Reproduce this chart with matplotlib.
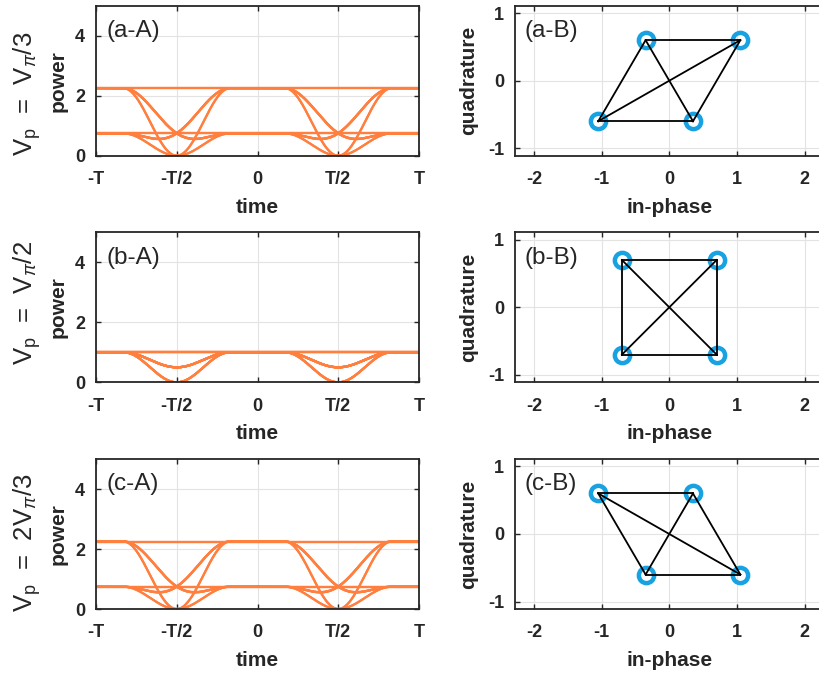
import numpy as np
import matplotlib
matplotlib.use("Agg")
import matplotlib.pyplot as plt

# constellation points (in-phase, quadrature)
iq_a_i = [-1.05, -0.35, 0.35, 1.05]
iq_a_q = [-0.60, 0.60, -0.60, 0.60]
iq_b_i = [-0.70, 0.70, -0.70, 0.70]
iq_b_q = [0.70, 0.70, -0.70, -0.70]
iq_c_i = [-1.05, 0.35, -0.35, 1.05]
iq_c_q = [0.60, 0.60, -0.60, -0.60]

# outer power level seen on each eye diagram
peak_power = [2.25, 1.0, 2.25]
# symbol boundaries and half-width of a transition (units of T)
transition_times = [-0.5, 0.5]
transition_halfwidth = 0.33

row_labels = [r"V$_\mathrm{p}$  =  V$_\pi$/3",
              r"V$_\mathrm{p}$  =  V$_\pi$/2",
              r"V$_\mathrm{p}$  =  2V$_\pi$/3"]
row_label_y = [94, 303, 543]
eye_tags = ["(a-A)", "(b-A)", "(c-A)"]
iq_tags = ["(a-B)", "(b-B)", "(c-B)"]

time_ticks = [-1, -0.5, 0, 0.5, 1]
time_ticklabels = ["-T", "-T/2", "0", "T/2", "T"]
power_ticks = [0, 2, 4]
iq_xticks = [-2, -1, 0, 1, 2]
iq_yticks = [-1, 0, 1]

ORANGE = "#FF7F3F"
BLUE = "#18A2E2"
DARK = "#262626"

plt.rcParams["font.family"] = ["Liberation Sans", "DejaVu Sans"]
plt.rcParams["mathtext.fontset"] = "custom"
plt.rcParams["mathtext.rm"] = "Liberation Sans"
plt.rcParams["mathtext.it"] = "Liberation Sans:italic"
plt.rcParams["axes.unicode_minus"] = False

W, H = 819, 677
fig = plt.figure(figsize=(W / 100, H / 100), dpi=100, facecolor="white")


def px_axes(left, top, width, height):
    return fig.add_axes([left / W, 1 - (top + height) / H, width / W, height / H])


def style_axes(ax):
    for sp in ax.spines.values():
        sp.set_color(DARK)
        sp.set_linewidth(1.3)
    ax.tick_params(direction="in", top=True, right=True, length=3.5, width=1.0,
                   color=DARK, labelcolor=DARK, labelsize=13)
    ax.tick_params(axis="x", pad=11)
    ax.tick_params(axis="y", pad=8)
    for lab in ax.get_xticklabels() + ax.get_yticklabels():
        lab.set_fontweight("bold")
    ax.grid(True, color="#E3E3E3", linewidth=0.8)
    ax.set_axisbelow(True)


def profile(tau, w):
    return 0.5 + 0.5 * np.sin(np.pi * np.clip(tau, -w, w) / (2 * w))


def eye_traces(pts, peak):
    scale = peak / np.max(np.abs(pts) ** 2)
    out = []
    for t0 in transition_times:
        t = np.linspace(t0 - 0.5, t0 + 0.5, 500)
        s = profile(t - t0, transition_halfwidth)
        for p in pts:
            for q in pts:
                out.append((t, scale * np.abs(p + (q - p) * s) ** 2))
    return out


iq_sets = [(iq_a_i, iq_a_q), (iq_b_i, iq_b_q), (iq_c_i, iq_c_q)]
row_tops = [5.7, 232.3, 459.0]

for r, (ii, qq) in enumerate(iq_sets):
    pts = np.array(ii) + 1j * np.array(qq)

    # eye diagram
    ax = px_axes(96, row_tops[r], 323, 150)
    for t, p in eye_traces(pts, peak_power[r]):
        ax.plot(t, p, color=ORANGE, linewidth=1.6, solid_capstyle="round")
    ax.set_xlim(-1, 1)
    ax.set_ylim(0, 5)
    ax.set_xticks(time_ticks)
    ax.set_xticklabels(time_ticklabels)
    ax.set_yticks(power_ticks)
    style_axes(ax)
    ax.set_xlabel("time", fontsize=15, fontweight="bold", color=DARK, labelpad=7)
    ax.set_ylabel("power", fontsize=15, fontweight="bold", color=DARK, labelpad=5)
    ax.text(0.034, 0.905, eye_tags[r], transform=ax.transAxes, fontsize=17.5,
            color=DARK, ha="left", va="top")

    fig.text(27 / W, 1 - row_label_y[r] / H, row_labels[r], rotation=90,
             fontsize=18.5, color=DARK, ha="center", va="center")

    # constellation
    bx = px_axes(515, row_tops[r], 308.6, 150)
    bx.plot(ii, qq, linestyle="none", marker="o", markersize=11,
            markerfacecolor="none", markeredgecolor=BLUE, markeredgewidth=3.2,
            zorder=3)
    for a in range(len(ii)):
        for b in range(a + 1, len(ii)):
            bx.plot([ii[a], ii[b]], [qq[a], qq[b]], color="black",
                    linewidth=1.3, zorder=4)
    bx.set_xlim(-2.28, 2.28)
    bx.set_ylim(-1.11, 1.11)
    bx.set_xticks(iq_xticks)
    bx.set_yticks(iq_yticks)
    style_axes(bx)
    bx.set_xlabel("in-phase", fontsize=15, fontweight="bold", color=DARK, labelpad=7)
    bx.set_ylabel("quadrature", fontsize=15, fontweight="bold", color=DARK, labelpad=7)
    bx.text(0.03, 0.905, iq_tags[r], transform=bx.transAxes, fontsize=17.5,
            color=DARK, ha="left", va="top")

fig.savefig("out.png", dpi=100, facecolor="white")
